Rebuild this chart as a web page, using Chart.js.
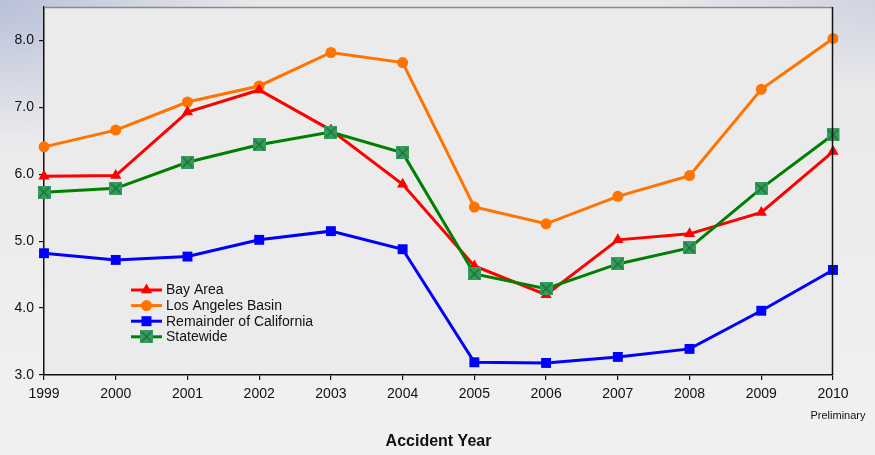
<!DOCTYPE html>
<html>
<head>
<meta charset="utf-8">
<script src="https://cdn.jsdelivr.net/npm/chart.js@4"></script>
<style>
  html, body { margin: 0; padding: 0; }
  body {
    width: 875px; height: 455px; overflow: hidden;
    background:
      radial-gradient(ellipse 260px 140px at 0 0, #b9c1d8 0%, rgba(233,233,236,0) 100%),
      radial-gradient(ellipse 220px 90px at 100% 0, #d0d4e2 0%, rgba(233,233,236,0) 100%),
      linear-gradient(#e8e8ea, #f1f1f1);
  }
  #wrap { position: relative; width: 875px; height: 455px; }
</style>
</head>
<body>
<div id="wrap"><canvas id="chart" width="875" height="455"></canvas></div>
<script>
/* ── Datos ── */
const years       = ["1999","2000","2001","2002","2003","2004","2005","2006","2007","2008","2009","2010"];
const bayArea     = [5.97, 5.98, 6.93, 7.26, 6.66, 5.85, 4.63, 4.20, 5.02, 5.11, 5.43, 6.34];
const laBasin     = [6.41, 6.66, 7.08, 7.32, 7.82, 7.67, 5.51, 5.26, 5.67, 5.98, 7.27, 8.03];
const remainder   = [4.82, 4.72, 4.77, 5.02, 5.15, 4.88, 3.19, 3.18, 3.27, 3.39, 3.96, 4.57];
const statewide   = [5.73, 5.79, 6.18, 6.44, 6.63, 6.32, 4.51, 4.29, 4.66, 4.90, 5.79, 6.59];
const seriesNames = ["Bay Area", "Los Angeles Basin", "Remainder of California", "Statewide"];
const yTicks      = [3, 4, 5, 6, 7, 8];
const xTitle      = "Accident Year";
const lastNote    = "Preliminary";

const FONT = "'Liberation Sans', Arial, sans-serif";

/* ── Marcador: cuadro verde con X ── */
function crossBox(size) {
  const c = document.createElement("canvas");
  c.width = size; c.height = size;
  const g = c.getContext("2d");
  g.fillStyle = "#379a60";
  g.fillRect(0, 0, size, size);
  g.strokeStyle = "#16722a";
  g.lineWidth = 1.2;
  g.beginPath();
  g.moveTo(1.5, 1.5); g.lineTo(size - 1.5, size - 1.5);
  g.moveTo(size - 1.5, 1.5); g.lineTo(1.5, size - 1.5);
  g.stroke();
  return c;
}
const stateMark = crossBox(13);

/* ── Fondo del área, bordes y leyenda ── */
const marco = {
  id: "marco",
  beforeDraw(chart) {
    const { ctx, chartArea: a } = chart;
    ctx.save();
    ctx.fillStyle = "#ebebeb";
    ctx.fillRect(a.left, a.top, a.right - a.left, a.bottom - a.top);
    ctx.restore();
  },
  afterDatasetsDraw(chart) {
    const { ctx, chartArea: a } = chart;
    ctx.save();
    // borde superior gris y derecho negro
    ctx.lineWidth = 1.5;
    ctx.strokeStyle = "#8a8a8a";
    ctx.beginPath(); ctx.moveTo(a.left, a.top + 0.5); ctx.lineTo(a.right, a.top + 0.5); ctx.stroke();
    ctx.strokeStyle = "#111";
    ctx.beginPath(); ctx.moveTo(a.right - 0.5, a.top); ctx.lineTo(a.right - 0.5, a.bottom); ctx.stroke();

    // leyenda dentro del área
    const x0 = 131, x1 = 162, tx = 166;
    let y = 290;
    chart.data.datasets.forEach((ds, i) => {
      ctx.strokeStyle = ds.borderColor;
      ctx.lineWidth = 3;
      ctx.beginPath(); ctx.moveTo(x0, y); ctx.lineTo(x1, y); ctx.stroke();
      const cx = (x0 + x1) / 2;
      ctx.fillStyle = ds.pointBackgroundColor;
      if (ds.pointStyle === "triangle") {
        const r = 6.5;
        ctx.beginPath();
        ctx.moveTo(cx, y - r);
        ctx.lineTo(cx + r * 0.87, y + r * 0.5);
        ctx.lineTo(cx - r * 0.87, y + r * 0.5);
        ctx.closePath(); ctx.fill();
      } else if (ds.pointStyle === "circle") {
        ctx.beginPath(); ctx.arc(cx, y, 5.5, 0, Math.PI * 2); ctx.fill();
      } else if (ds.pointStyle === "rect") {
        ctx.fillRect(cx - 5, y - 5, 10, 10);
      } else {
        ctx.drawImage(ds.pointStyle, cx - 6.5, y - 6.5);
      }
      ctx.fillStyle = "#111";
      ctx.font = "14px " + FONT;
      ctx.textAlign = "left";
      ctx.textBaseline = "middle";
      ctx.fillText(seriesNames[i], tx, y + 0.5);
      y += 15.6;
    });

    // nota bajo el último año
    const xs = chart.scales.x;
    ctx.font = "11px " + FONT;
    ctx.textAlign = "center";
    ctx.textBaseline = "middle";
    ctx.fillText(lastNote, xs.getPixelForValue(years.length - 1) + 5, 416);
    ctx.restore();
  },
};

function serie(i, data, color, style, radius, order) {
  return {
    label: seriesNames[i],
    data,
    borderColor: color,
    backgroundColor: color,
    pointBackgroundColor: color,
    pointBorderColor: color,
    pointBorderWidth: 0,
    pointStyle: style,
    pointRadius: radius,
    pointHoverRadius: radius,
    borderWidth: 3,
    tension: 0,
    order,
  };
}

new Chart(document.getElementById("chart").getContext("2d"), {
  type: "line",
  data: {
    labels: years,
    datasets: [
      serie(0, bayArea,   "#ff0000", "triangle", 6.5, 1),
      serie(1, laBasin,   "#ff7300", "circle",   5.5, 2),
      serie(2, remainder, "#0000ff", "rect",     7,   3),
      serie(3, statewide, "#008000", stateMark,  6.5, 0),
    ],
  },
  options: {
    responsive: false,
    animation: false,
    events: [],
    layout: { padding: { top: 4, right: 42, left: 0, bottom: 0 } },
    plugins: { legend: { display: false }, tooltip: { enabled: false } },
    scales: {
      x: {
        type: "category",
        offset: false,
        afterFit(s) { s.height = 80; },
        grid: { drawOnChartArea: false, drawTicks: true, tickLength: 5, color: "#111", lineWidth: 1.2 },
        border: { color: "#111", width: 1.5 },
        ticks: { color: "#111", font: { size: 14, family: FONT }, padding: 6, maxRotation: 0, autoSkip: false },
        title: {
          display: true, text: xTitle, color: "#111",
          font: { size: 16, weight: "bold", family: FONT },
          padding: { top: 0, bottom: 4 },
        },
      },
      y: {
        min: 3, max: 8.5,
        afterFit(s) { s.width = 44; s.paddingTop = 0; s.paddingBottom = 0; },
        afterBuildTicks(s) { s.ticks = yTicks.map(v => ({ value: v })); },
        grid: { drawOnChartArea: false, drawTicks: true, tickLength: 5, color: "#111", lineWidth: 1.2 },
        border: { color: "#111", width: 1.5 },
        ticks: {
          color: "#111", font: { size: 14, family: FONT }, padding: 5,
          callback: v => Number(v).toFixed(1),
        },
      },
    },
  },
  plugins: [marco],
});
</script>
</body>
</html>
